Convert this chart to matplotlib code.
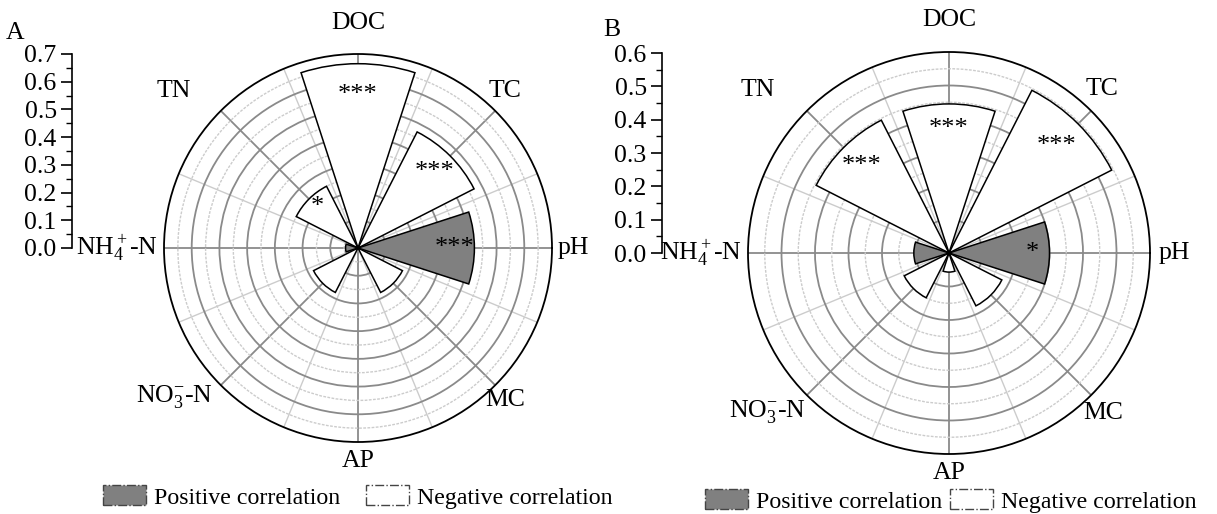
import numpy as np
import matplotlib
matplotlib.use("Agg")
import matplotlib.pyplot as plt
from matplotlib.patches import Patch
from matplotlib.ticker import AutoMinorLocator

plt.rcParams['font.family'] = ['Liberation Serif', 'DejaVu Serif']
plt.rcParams['mathtext.fontset'] = 'custom'
plt.rcParams['mathtext.rm'] = 'Liberation Serif'
plt.rcParams['mathtext.it'] = 'Liberation Serif:italic'

# categories, counter-clockwise from pH (0 deg)
categories = ["pH", "TC", "DOC", "TN", r"NH$_4^+$-N", r"NO$_3^{-}$-N", "AP", "MC"]
angles_deg = [0, 45, 90, 135, 180, 225, 270, 315]

# panel A: |r| and sign (True = positive correlation)
a_values = [0.42, 0.47, 0.665, 0.25, 0.045, 0.18, 0.0, 0.18]
a_positive = [True, False, False, False, True, False, False, False]
a_stars = ["***", "***", "***", "*", "", "", "", ""]

# panel B
b_values = [0.30, 0.545, 0.445, 0.445, 0.105, 0.15, 0.057, 0.177]
b_positive = [True, False, False, False, True, False, False, False]
b_stars = ["*", "***", "***", "***", "", "", "", ""]

W, H = 1217, 514
GRAY = '#808080'
FS = 18.5

fig = plt.figure(figsize=(W / 100, H / 100), dpi=100)


def px_box(left, top, width, height):
    return [left / W, (H - top - height) / H, width / W, height / H]


def rose(cx, cy, R, rmax, values, positive, stars, label_pos, inward_ticks):
    ax = fig.add_axes(px_box(cx - R, cy - R, 2 * R, 2 * R), projection='polar')
    theta = np.deg2rad(angles_deg)
    ax.set_ylim(0, rmax)
    ax.set_axisbelow(True)

    nmaj = int(round(rmax / 0.1))
    ax.set_yticks([round(0.1 * i, 2) for i in range(1, nmaj)])
    ax.set_yticks([round(0.1 * i + 0.05, 2) for i in range(0, nmaj)], minor=True)
    ax.set_yticklabels([])
    ax.yaxis.grid(True, which='major', color='#8a8a8a', lw=1.3, ls='-')
    ax.yaxis.grid(True, which='minor', color='#cccccc', lw=1.0, ls=(0, (2, 1)))
    ax.tick_params(axis='y', which='both', length=0)

    ax.set_xticks(theta)
    ax.set_xticks(theta + np.deg2rad(22.5), minor=True)
    ax.set_xticklabels([])
    ax.xaxis.grid(True, which='major', color='#8a8a8a', lw=1.3, ls='-')
    ax.xaxis.grid(True, which='minor', color='#cccccc', lw=1.0, ls='-')
    if inward_ticks:
        ax.tick_params(axis='x', which='major', direction='in', length=8,
                       width=1.3, color='black')
    else:
        ax.tick_params(axis='x', which='major', length=0)
    ax.tick_params(axis='x', which='minor', length=0)

    ax.spines['polar'].set_color('black')
    ax.spines['polar'].set_linewidth(1.3)

    colors = [GRAY if p else 'white' for p in positive]
    ax.bar(theta, values, width=np.deg2rad(36), bottom=0, color=colors,
           edgecolor='black', linewidth=1.1, zorder=3)

    for t, v, s in zip(theta, values, stars):
        if s:
            ax.text(t, 0.83 * v, s, ha='center', va='center', fontsize=19,
                    zorder=4)

    for lab, (ang, fac, ha) in zip(categories, label_pos):
        ax.text(np.deg2rad(ang), fac * rmax, lab, ha=ha, va='center',
                fontsize=FS, clip_on=False)
    return ax


def radial_axis(x, top, bottom, rmax):
    ax = fig.add_axes(px_box(x, top, 1, bottom - top))
    ax.set_ylim(0, rmax)
    for side in ['top', 'right', 'bottom']:
        ax.spines[side].set_visible(False)
    ax.spines['left'].set_linewidth(1.2)
    ax.set_xticks([])
    ticks = [round(0.1 * i, 1) for i in range(0, int(round(rmax / 0.1)) + 1)]
    ax.set_yticks(ticks)
    ax.set_yticklabels([f"{t:.1f}" for t in ticks])
    ax.yaxis.set_minor_locator(AutoMinorLocator(2))
    ax.tick_params(axis='y', which='major', length=8, width=1.2, labelsize=FS, pad=3)
    ax.tick_params(axis='y', which='minor', length=4, width=1.0)
    ax.patch.set_visible(False)


label_a = [(0, 1.03, 'left'), (47, 1.11, 'center'), (90, 1.16, 'center'),
           (139.5, 1.25, 'center'), (180, 1.03, 'right'), (219, 1.22, 'center'),
           (270, 1.10, 'center'), (-46, 1.09, 'center')]
label_b = [(0, 1.045, 'left'), (47, 1.115, 'center'), (90, 1.16, 'center'),
           (139.5, 1.25, 'center'), (180, 1.03, 'right'), (221, 1.2, 'center'),
           (270, 1.095, 'center'), (-46, 1.105, 'center')]

rose(358, 248, 194, 0.7, a_values, a_positive, a_stars, label_a, False)
rose(949, 253, 201, 0.6, b_values, b_positive, b_stars, label_b, True)
radial_axis(72, 54, 248, 0.7)
radial_axis(662, 53, 253, 0.6)

fig.text(15 / W, 1 - 33 / H, "A", fontsize=FS, ha='center', va='center')
fig.text(612 / W, 1 - 30 / H, "B", fontsize=FS, ha='center', va='center')

handles = [Patch(facecolor=GRAY, edgecolor='#444444', linestyle='-.', linewidth=1.0,
                 label='Positive correlation'),
           Patch(facecolor='white', edgecolor='#444444', linestyle='-.', linewidth=1.0,
                 label='Negative correlation')]
for x0, yc, cs in [(103, 497, 1.05), (705, 501, 0.3)]:
    fig.legend(handles=handles, loc='center left', bbox_to_anchor=(x0 / W, 1 - yc / H),
               ncol=2, frameon=False, fontsize=17.2, handlelength=1.8, handleheight=0.9,
               handletextpad=0.35, columnspacing=cs, borderpad=0, borderaxespad=0)

fig.savefig('out.png', dpi=100)
